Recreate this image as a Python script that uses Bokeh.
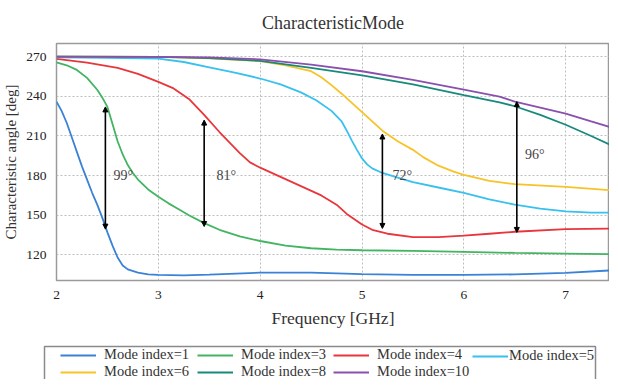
from bokeh.plotting import figure
from bokeh.models import (Legend, LegendItem, FixedTicker, Arrow, NormalHead, Range1d)
from bokeh.layouts import column
from bokeh.core.properties import value
from bokeh.embed import file_html
from bokeh.resources import INLINE

# ---------------- data ----------------
m1_x = [2.0, 2.05, 2.1, 2.15, 2.2, 2.25, 2.3, 2.35, 2.4, 2.45, 2.5, 2.55, 2.6, 2.65, 2.7, 2.8, 2.9, 3.0, 3.25, 3.5, 4.0, 4.5, 5.0, 5.5, 6.0, 6.5, 7.0, 7.5]
m1_y = [236, 229, 220, 209, 198, 187, 177, 167, 158, 148, 137, 127, 118, 112, 109, 106.5, 105.3, 104.8, 104.5, 105, 106.5, 106.5, 105.5, 104.8, 104.8, 105.2, 106.3, 108.5]

m3_x = [2.0, 2.1, 2.2, 2.3, 2.4, 2.45, 2.5, 2.55, 2.6, 2.65, 2.7, 2.75, 2.8, 2.9, 3.0, 3.1, 3.2, 3.3, 3.45, 3.6, 3.8, 4.0, 4.25, 4.5, 4.75, 5.0, 5.5, 6.0, 6.5, 7.0, 7.5]
m3_y = [265.7, 263.5, 260, 254, 245, 239, 232, 219, 206, 196, 188, 182, 177, 169.5, 164, 159, 154.5, 150, 144, 139, 134, 130.5, 127, 125, 124, 123.5, 123, 122.3, 121.5, 121, 120.5]

m4_x = [2.0, 2.3, 2.6, 2.8, 3.0, 3.15, 3.3, 3.45, 3.6, 3.7, 3.8, 3.9, 4.0, 4.2, 4.4, 4.6, 4.75, 4.85, 5.0, 5.1, 5.25, 5.5, 5.75, 6.0, 6.25, 6.5, 7.0, 7.5]
m4_y = [268.3, 265.5, 261.5, 257, 251, 246, 238, 226, 213, 205, 197, 190, 186, 179, 172, 165, 158, 151, 143, 139, 136, 133.5, 133.5, 134.5, 136, 137.5, 139.5, 140]

m5_x = [2.0, 2.5, 3.0, 3.25, 3.5, 3.75, 4.0, 4.2, 4.4, 4.55, 4.7, 4.8, 4.85, 4.9, 4.95, 5.0, 5.05, 5.1, 5.2, 5.35, 5.5, 5.75, 6.0, 6.25, 6.5, 6.75, 7.0, 7.25, 7.5]
m5_y = [269.5, 269.2, 268.5, 266, 262, 258, 253.5, 249, 243, 237, 229, 221, 214, 206.5, 199.5, 193, 188.5, 185.5, 182, 178.5, 175, 171, 167, 162, 158, 155, 153, 152, 152]

m6_x = [2.0, 3.0, 3.5, 4.0, 4.25, 4.5, 4.6, 4.7, 4.8, 4.9, 5.0, 5.1, 5.2, 5.35, 5.5, 5.6, 5.75, 5.9, 6.0, 6.25, 6.5, 7.0, 7.5]
m6_y = [270, 269.8, 268.8, 266.6, 263.5, 259, 254.5, 248.5, 242, 235, 228, 221, 214, 206, 199.5, 194, 187.5, 183, 180.5, 176, 173.5, 171.5, 168.5]

m8_x = [2.0, 3.0, 3.5, 4.0, 4.5, 5.0, 5.5, 6.0, 6.35, 6.5, 6.75, 7.0, 7.25, 7.5]
m8_y = [270, 269.8, 269, 266.8, 261.5, 255.8, 249, 241, 235.5, 232.5, 226, 218.5, 210, 201]

m10_x = [2.0, 3.0, 3.5, 4.0, 4.5, 5.0, 5.5, 6.0, 6.35, 6.5, 6.75, 7.0, 7.25, 7.5]
m10_y = [270, 269.9, 269.5, 268, 264, 259, 252.5, 245, 239.8, 236, 231.5, 227, 221, 215.3]

mode_labels = ["Mode index=1", "Mode index=3", "Mode index=4", "Mode index=5",
               "Mode index=6", "Mode index=8", "Mode index=10"]
mode_colors = ["#3a82d6", "#43b462", "#e8363c", "#38c0ef", "#f6c328", "#178a7c", "#8a50ae"]
# legend columns (indices into the mode lists): rows "1 3 4 5" / "6 8 10"
legend_columns = [[0, 4], [1, 5], [2, 6], [3]]

arrow_x = [2.48, 3.45, 5.2, 6.52]
arrow_top = [232, 222, 211.5, 236]
arrow_bottom = [139.5, 141.5, 140, 137]
ang_text = ["99°", "81°", "72°", "96°"]
ang_x = [2.56, 3.57, 5.3, 6.6]
ang_y = [180, 180, 180, 196]

x_ticks = [2, 3, 4, 5, 6, 7]
y_ticks = [120, 150, 180, 210, 240, 270]

# ---------------- main figure ----------------
SERIF = "Liberation Serif"
p = figure(frame_width=553, frame_height=237, output_backend="svg", toolbar_location=None,
           x_range=Range1d(2, 7.43), y_range=Range1d(100.6, 280),
           min_border_left=49, min_border_right=0, min_border_top=42,
           min_border_bottom=54)
p.frame_align = False

p.title.text = "CharacteristicMode"
p.title.text_font = SERIF
p.title.text_font_size = "18px"
p.title.text_font_style = "normal"
p.title.text_color = "#333333"
p.title.align = "center"
p.title.offset = -12
p.title.standoff = 21

p.outline_line_color = "#9a9a9a"
p.outline_line_width = 1.5

for ax in (p.xaxis, p.yaxis):
    ax.axis_line_color = None
    ax.major_tick_line_color = None
    ax.minor_tick_line_color = None
    ax.major_label_text_font = SERIF
    ax.major_label_text_font_size = "13.5px"
    ax.major_label_text_font_style = "normal"
    ax.major_label_text_color = "#222222"
    ax.axis_label_text_font = SERIF
    ax.axis_label_text_font_style = "normal"
    ax.axis_label_text_color = "#333333"
    ax.major_label_standoff = 4

p.xaxis.ticker = FixedTicker(ticks=x_ticks)
p.yaxis.ticker = FixedTicker(ticks=y_ticks)
p.xaxis.axis_label = "Frequency [GHz]"
p.xaxis.axis_label_text_font_size = "17.5px"
p.xaxis.axis_label_standoff = 6
p.yaxis.axis_label = "Characteristic angle [deg]"
p.yaxis.axis_label_text_font_size = "15px"
p.yaxis.axis_label_standoff = 4

for g in (p.xgrid, p.ygrid):
    g.grid_line_color = "#bdbdbd"
    g.grid_line_dash = "2 2"
    g.grid_line_width = 1

series = [(m1_x, m1_y), (m3_x, m3_y), (m4_x, m4_y), (m5_x, m5_y),
          (m6_x, m6_y), (m8_x, m8_y), (m10_x, m10_y)]
for (xs, ys), col in zip(series, mode_colors):
    p.line(xs, ys, line_color=col, line_width=1.8)

for xa, yt, yb in zip(arrow_x, arrow_top, arrow_bottom):
    p.add_layout(Arrow(x_start=xa, y_start=yb, x_end=xa, y_end=yt,
                       line_color="black", line_width=1.6,
                       start=NormalHead(size=5, fill_color="black", line_color="black"),
                       end=NormalHead(size=5, fill_color="black", line_color="black")))

p.text(x=ang_x, y=ang_y, text=ang_text, text_font=value(SERIF),
       text_font_size="14px", text_color="#444444",
       text_baseline="middle", text_align="left")

# ---------------- legend strip (pixel-unit figure) ----------------
QW, QH = 602, 45
q = figure(width=QW, height=QH, output_backend="svg", toolbar_location=None,
           x_range=Range1d(0, QW), y_range=Range1d(0, QH),
           x_axis_type=None, y_axis_type=None,
           min_border_left=0, min_border_right=0, min_border_top=0, min_border_bottom=0)
q.frame_align = False
q.outline_line_color = None
q.xgrid.visible = False
q.ygrid.visible = False

# legend frame box (layout, in strip pixels)
TOP = 12
q.quad(left=[44], right=[595], top=[QH - TOP], bottom=[-6],
       fill_color="white", line_color="#8a8a8a", line_width=1.5)

legend_renderers = [q.line(x=[5000, 5001], y=[5000, 5001], line_color=col, line_width=1.8)
                    for col in mode_colors]
col_x = [60, 197, 333, 472]
col_standoff = [8, 8, 8, 1]
ROW = 16
for cols, cx, cs in zip(legend_columns, col_x, col_standoff):
    items = [LegendItem(label=mode_labels[i], renderers=[legend_renderers[i]]) for i in cols]
    lg = Legend(items=items, orientation="vertical",
                location=(cx, QH - TOP - 2 - ROW * len(cols)),
                label_text_font=SERIF, label_text_font_size="14.5px",
                label_text_color="#333333",
                glyph_width=36, glyph_height=ROW, label_height=ROW,
                label_standoff=cs, spacing=0, padding=0, margin=0,
                border_line_color=None, background_fill_alpha=0.0)
    q.add_layout(lg, "center")

layout = column(p, q, spacing=0)
open("out.html", "w").write(file_html(layout, INLINE))
